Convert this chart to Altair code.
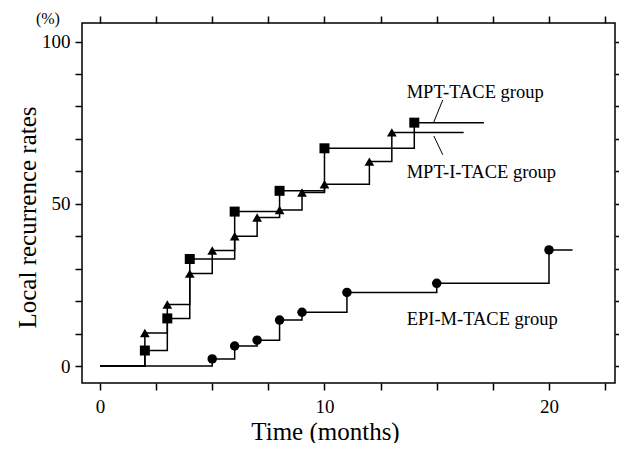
import altair as alt
import pandas as pd

# ---- data (Kaplan-Meier style step curves) ----
groups = ["MPT-TACE group", "MPT-I-TACE group", "EPI-M-TACE group"]
shapes = ["square", "triangle-up", "circle"]
marker_sizes = [100, 90, 45]

mpt_times = [2, 3, 4, 6, 8, 10, 14]
mpt_rates = [4.8, 14.7, 33.0, 47.6, 54.0, 67.1, 75.0]
mpt_end = 17.1

mpti_times = [2, 3, 4, 5, 6, 7, 8, 9, 10, 12, 13]
mpti_rates = [10.2, 19.0, 28.5, 35.6, 40.0, 45.8, 48.1, 53.5, 56.0, 63.0, 72.0]
mpti_end = 16.2

epi_times = [5, 6, 7, 8, 9, 11, 15, 20]
epi_rates = [2.2, 6.2, 8.0, 14.2, 16.6, 22.7, 25.5, 35.8]
epi_end = 21.05

# annotation labels and leader lines
label_x = [13.66, 13.66, 13.66]
label_y = [82.6, 58.0, 12.6]
leader_x = [15.27, 14.87]
leader_y = [82.0, 70.9]
leader_x2 = [14.87, 15.27]
leader_y2 = [75.2, 65.1]
unit_text = ["(%)"]
unit_x = [-2.32]
unit_y = [107.0]

x_ticks = [0, 2.5, 5, 7.5, 10, 12.5, 15, 17.5, 20, 22.5]
y_ticks = [0, 10, 20, 30, 40, 50, 60, 70, 80, 90, 100]

# ---- tables ----
series = [(mpt_times, mpt_rates, mpt_end),
          (mpti_times, mpti_rates, mpti_end),
          (epi_times, epi_rates, epi_end)]
step_rows, event_rows = [], []
for g, (ts, rs, end) in zip(groups, series):
    pts = [(0, 0)] + list(zip(ts, rs)) + [(end, rs[-1])]
    for i, (t, r) in enumerate(pts):
        step_rows.append({"group": g, "time": t, "rate": r, "order": i})
    for t, r in zip(ts, rs):
        event_rows.append({"group": g, "time": t, "rate": r})
steps = pd.DataFrame(step_rows)
events = pd.DataFrame(event_rows)
labels = pd.DataFrame({"text": groups, "x": label_x, "y": label_y})
leaders = pd.DataFrame({"x": leader_x, "y": leader_y, "x2": leader_x2, "y2": leader_y2})
unit = pd.DataFrame({"text": unit_text, "x": unit_x, "y": unit_y})

FONT = "Liberation Serif"
x_scale = alt.Scale(domain=[-0.8, 22.94], nice=False, zero=False)
y_scale = alt.Scale(domain=[-5.2, 105.7], nice=False, zero=False)

common = dict(domain=False, grid=False, tickSize=7, tickWidth=1.5, tickColor="black",
              labelFont=FONT, labelFontSize=19, labelColor="black",
              titleFont=FONT, titleFontSize=25, titleFontWeight="normal", titleColor="black")

x_bottom = alt.Axis(values=x_ticks, orient="bottom",
                    labelExpr="datum.value % 10 == 0 ? format(datum.value, 'd') : ''",
                    labelPadding=7, title="Time (months)",
                    titleX=243, titleY=56, titleAlign="center", titleBaseline="alphabetic",
                    **common)
y_left = alt.Axis(values=y_ticks, orient="left",
                  labelExpr="datum.value % 50 == 0 ? format(datum.value, 'd') : ''",
                  labelPadding=5, title="Local recurrence rates",
                  titleX=-55, titleY=194, titleAngle=-90, titleAlign="center",
                  titleBaseline="middle", **common)
x_top = alt.Axis(values=x_ticks, orient="top", labels=False, title=None, **common)
y_right = alt.Axis(values=y_ticks, orient="right", labels=False, title=None, **common)

lines = alt.Chart(steps).mark_line(interpolate="step-after", color="black", strokeWidth=1.5).encode(
    x=alt.X("time:Q", scale=x_scale, axis=x_bottom),
    y=alt.Y("rate:Q", scale=y_scale, axis=y_left),
    detail="group:N",
    order="order:Q",
)

frame_axes = alt.Chart(steps).mark_point(opacity=0).encode(
    x=alt.X("time:Q", scale=x_scale, axis=x_top),
    y=alt.Y("rate:Q", scale=y_scale, axis=y_right),
)

markers = alt.Chart(events).mark_point(filled=True, color="black", opacity=1, strokeWidth=0).encode(
    x=alt.X("time:Q", scale=x_scale, axis=None),
    y=alt.Y("rate:Q", scale=y_scale, axis=None),
    shape=alt.Shape("group:N", scale=alt.Scale(domain=groups, range=shapes), legend=None),
    size=alt.Size("group:O", scale=alt.Scale(domain=groups, range=marker_sizes), legend=None),
)

texts = alt.Chart(labels).mark_text(font=FONT, fontSize=18.5, align="left",
                                    baseline="alphabetic", color="black").encode(
    x=alt.X("x:Q", scale=x_scale, axis=None),
    y=alt.Y("y:Q", scale=y_scale, axis=None),
    text="text:N",
)

leader_lines = alt.Chart(leaders).mark_rule(color="black", strokeWidth=1).encode(
    x=alt.X("x:Q", scale=x_scale, axis=None),
    y=alt.Y("y:Q", scale=y_scale, axis=None),
    x2="x2:Q",
    y2="y2:Q",
)

unit_label = alt.Chart(unit).mark_text(font=FONT, fontSize=16, align="center",
                                       baseline="middle", color="black").encode(
    x=alt.X("x:Q", scale=x_scale, axis=None),
    y=alt.Y("y:Q", scale=y_scale, axis=None),
    text="text:N",
)

chart = alt.layer(lines, frame_axes, markers, leader_lines, texts, unit_label).resolve_axis(
    x="independent", y="independent"
).properties(
    width=533, height=360,
    autosize=alt.AutoSizeParams(type="none"),
    padding={"left": 74, "top": 15, "right": 4, "bottom": 60},
    background="white",
).configure_view(stroke="black", strokeWidth=1.5)

chart.save("out.html", embed_options={"renderer": "svg", "actions": False})
